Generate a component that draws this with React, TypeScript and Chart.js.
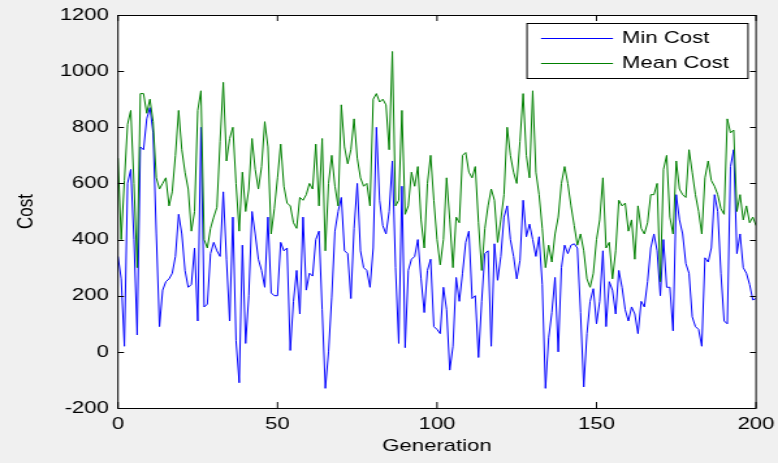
import React, { useEffect, useRef } from "react";
import { Chart, registerables } from "chart.js";

Chart.register(...registerables);

// ---------- data ----------
const seriesLabels = ["Min Cost", "Mean Cost"];
const seriesColors = ["#0000ff", "#008000"];

const minCost = [
  340, 260, 20, 600, 650, 400, 60, 730, 720, 830,
  870, 780, 420, 90, 220, 250, 260, 280, 340, 490,
  420, 290, 230, 240, 370, 110, 800, 160, 170, 350,
  390, 360, 340, 570, 330, 110, 480, 40, -110, 380,
  30, 200, 500, 420, 330, 290, 230, 480, 210, 200,
  200, 390, 360, 370, 5, 180, 290, 135, 480, 220,
  280, 270, 400, 430, 150, -130, 0, 195, 430, 500,
  550, 360, 350, 190, 440, 600, 360, 300, 290, 230,
  370, 800, 540, 450, 420, 500, 680, 300, 30, 590,
  15, 290, 330, 340, 400, 260, 140, 290, 330, 90,
  80, 65, 230, 150, -65, 20, 265, 180, 280, 390,
  430, 190, 200, -20, 180, 350, 360, 20, 385, 255,
  340, 480, 520, 400, 340, 260, 325, 540, 410, 455,
  400, 340, 410, 240, -130, 50, 140, 265, 0, 300,
  380, 350, 380, 385, 370, 140, -125, 65, 180, 225,
  100, 180, 360, 90, 250, 220, 135, 290, 230, 150,
  110, 160, 135, 65, 180, 160, 250, 370, 420, 360,
  200, 400, 230, 230, 75, 560, 470, 420, 315, 280,
  125, 90, 80, 20, 335, 320, 370, 560, 500, 280,
  110, 100, 660, 720, 350, 420, 300, 280, 240, 185,
  190,
];

const meanCost = [
  690, 400, 610, 810, 860, 600, 300, 920, 920, 850,
  900, 820, 620, 580, 600, 620, 520, 570, 700, 860,
  720, 640, 580, 430, 500, 860, 930, 400, 370, 440,
  480, 515, 750, 960, 680, 760, 800, 600, 430, 640,
  500, 580, 760, 650, 580, 660, 820, 730, 420, 510,
  620, 740, 590, 530, 520, 460, 440, 550, 540, 560,
  600, 580, 740, 520, 760, 360, 600, 700, 590, 520,
  880, 730, 670, 720, 830, 690, 620, 590, 600, 520,
  900, 920, 890, 900, 880, 720, 1070, 520, 540, 860,
  490, 520, 640, 590, 660, 470, 370, 600, 700, 540,
  400, 310, 400, 620, 470, 300, 480, 460, 700, 710,
  640, 620, 660, 460, 290, 440, 520, 580, 540, 390,
  470, 560, 800, 700, 640, 600, 750, 920, 700, 620,
  930, 640, 560, 440, 300, 380, 320, 420, 480, 600,
  660, 600, 520, 450, 380, 420, 360, 260, 230, 280,
  400, 470, 620, 370, 390, 260, 360, 540, 520, 530,
  430, 470, 330, 520, 440, 420, 460, 560, 560, 600,
  250, 650, 700, 480, 420, 680, 580, 560, 550, 720,
  640, 560, 500, 420, 620, 680, 610, 590, 560, 510,
  490, 830, 780, 790, 500, 560, 470, 520, 460, 480,
  450,
];

const generations = minCost.map((_, i) => i);
const xTickValues = [0, 50, 100, 150, 200];
const yTickValues = [-200, 0, 200, 400, 600, 800, 1000, 1200];
const xTitle = "Generation";
const yTitle = "Cost";

// ---------- layout ----------
const FULL_W = 778;
const H = 463;
const CW = 598; // logical canvas width (stretched horizontally to 778)
const SX = FULL_W / CW;
const PLOT_LEFT = 118 / SX;
const PLOT_RIGHT = 756 / SX;
const PLOT_TOP = 15;
const PLOT_BOTTOM = 408;
const FONT = "'Liberation Sans', Arial, Helvetica, sans-serif";

const framePlugin = {
  id: "matlabFrame",
  beforeDraw(chart: any) {
    const { ctx, chartArea: a, width, height } = chart;
    ctx.save();
    ctx.fillStyle = "#f0f0f0";
    ctx.fillRect(0, 0, width, height);
    ctx.fillStyle = "#ffffff";
    ctx.fillRect(a.left, a.top, a.right - a.left, a.bottom - a.top);
    ctx.restore();
  },
  afterDraw(chart: any) {
    const { ctx, chartArea: a, scales } = chart;
    const xs = scales.x;
    const ys = scales.y;
    ctx.save();
    ctx.strokeStyle = "#000";
    ctx.lineWidth = 1;
    ctx.strokeRect(a.left, a.top + 0.5, a.right - a.left, a.bottom - a.top);
    ctx.beginPath();
    xs.ticks.forEach((t: any) => {
      const px = xs.getPixelForValue(t.value);
      ctx.moveTo(px, a.bottom);
      ctx.lineTo(px, a.bottom - 6);
      ctx.moveTo(px, a.top);
      ctx.lineTo(px, a.top + 6);
    });
    ys.ticks.forEach((t: any) => {
      const py = Math.round(ys.getPixelForValue(t.value)) + 0.5;
      ctx.moveTo(a.left, py);
      ctx.lineTo(a.left + 4.6, py);
      ctx.moveTo(a.right, py);
      ctx.lineTo(a.right - 4.6, py);
    });
    ctx.stroke();

    // legend box
    const bx = 527 / SX;
    const bw = 748 / SX - bx;
    const by = 23;
    const bh = 55;
    ctx.fillStyle = "#ffffff";
    ctx.fillRect(bx, by, bw, bh);
    ctx.strokeStyle = "#000";
    ctx.strokeRect(bx, by + 0.5, bw, bh);
    const rows = [38, 63];
    chart.data.datasets.forEach((ds: any, i: number) => {
      const y = rows[i] + 0.5;
      ctx.strokeStyle = ds.borderColor;
      ctx.lineWidth = 1;
      ctx.beginPath();
      ctx.moveTo(541 / SX, y);
      ctx.lineTo(613 / SX, y);
      ctx.stroke();
      ctx.fillStyle = "#000";
      ctx.font = `17px ${FONT}`;
      ctx.textAlign = "left";
      ctx.textBaseline = "middle";
      ctx.fillText(ds.label, 622 / SX, rows[i]);
    });
    ctx.restore();
  },
};

export default function App() {
  const ref = useRef<HTMLCanvasElement>(null);

  useEffect(() => {
    const canvas = ref.current;
    if (!canvas) return;
    const series = [minCost, meanCost];
    const chart = new Chart(canvas, {
      type: "line",
      data: {
        datasets: series.map((vals, k) => ({
          label: seriesLabels[k],
          data: vals.map((v, i) => ({ x: generations[i], y: v })),
          borderColor: seriesColors[k],
          backgroundColor: seriesColors[k],
          borderWidth: 1,
          pointRadius: 0,
          tension: 0,
          fill: false,
          order: series.length - k,
        })),
      },
      options: {
        animation: false,
        responsive: false,
        devicePixelRatio: 1,
        layout: {
          padding: { left: 0, top: PLOT_TOP, right: CW - PLOT_RIGHT, bottom: 0 },
        },
        plugins: {
          legend: { display: false },
          tooltip: { enabled: false },
        },
        scales: {
          x: {
            type: "linear",
            min: 0,
            max: 200,
            afterBuildTicks: (s: any) => {
              s.ticks = xTickValues.map((v) => ({ value: v }));
            },
            afterFit: (s: any) => {
              s.height = H - PLOT_BOTTOM;
              s.paddingLeft = 0;
              s.paddingRight = 0;
            },
            grid: { display: false, drawTicks: false },
            border: { display: false },
            ticks: {
              padding: 6,
              color: "#000",
              font: { family: FONT, size: 17 },
              maxRotation: 0,
              autoSkip: false,
              callback: (v: any) => String(v),
            },
            title: {
              display: true,
              text: xTitle,
              color: "#000",
              font: { family: FONT, size: 17 },
              padding: { top: 0, bottom: 6.5 },
            },
          },
          y: {
            type: "linear",
            min: -200,
            max: 1200,
            afterBuildTicks: (s: any) => {
              s.ticks = yTickValues.map((v) => ({ value: v }));
            },
            afterFit: (s: any) => {
              s.width = PLOT_LEFT;
              s.paddingTop = 0;
              s.paddingBottom = 0;
            },
            grid: { display: false, drawTicks: false },
            border: { display: false },
            ticks: {
              padding: 7,
              color: "#000",
              font: { family: FONT, size: 17 },
              autoSkip: false,
              callback: (v: any) => String(v),
            },
            title: {
              display: true,
              text: yTitle,
              color: "#000",
              font: { family: FONT, size: 17 },
              padding: { top: 10.5, bottom: 0 },
            },
          },
        },
      },
      plugins: [framePlugin],
    } as any);
    return () => chart.destroy();
  }, []);

  return (
    <div
      style={{
        position: "absolute",
        left: 0,
        top: 0,
        width: FULL_W,
        height: H,
        overflow: "hidden",
        background: "#f0f0f0",
      }}
    >
      <div
        style={{
          width: CW,
          height: H,
          transform: `scaleX(${SX})`,
          transformOrigin: "0 0",
        }}
      >
        <canvas ref={ref} width={CW} height={H} style={{ display: "block" }} />
      </div>
    </div>
  );
}
